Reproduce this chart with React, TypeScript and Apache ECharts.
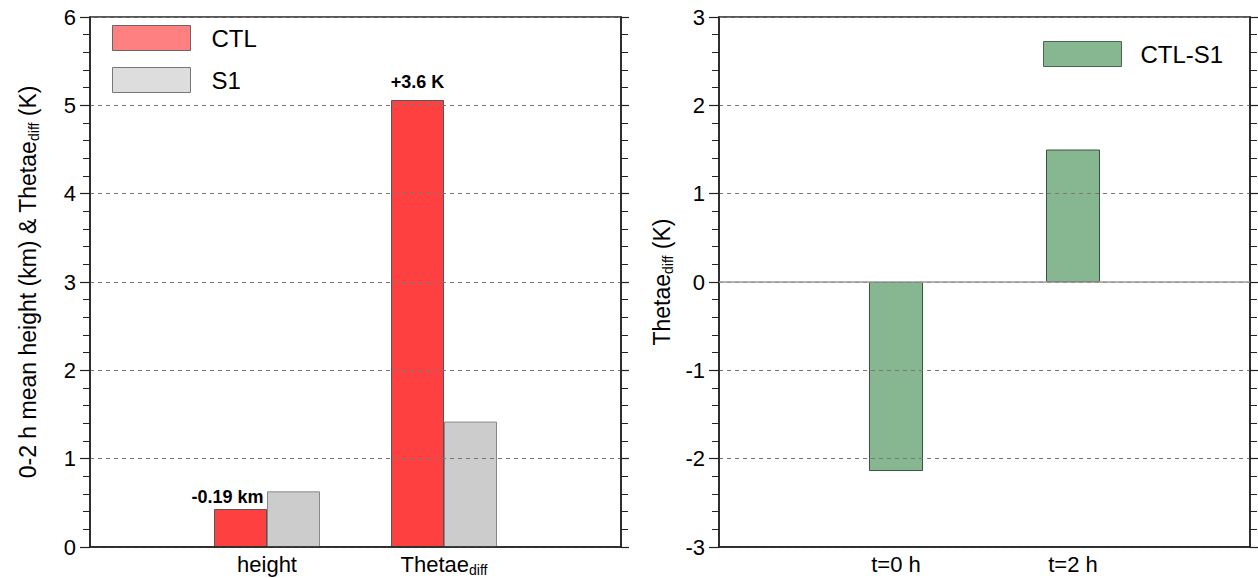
import React, { useEffect, useRef } from "react";
import * as echarts from "echarts";

const leftCategories = ["", "height", "Thetae_diff", ""];
const ctlValues = [0.43, 5.06];
const s1Values = [0.63, 1.42];
const ctlAnnotations = ["-0.19 km", "+3.6 K"];
const rightCategories = ["", "t=0 h", "t=2 h", ""];
const diffValues = [-2.14, 1.5];
const leftTicks = { min: 0, max: 6, interval: 1 };
const rightTicks = { min: -3, max: 3, interval: 1 };

const FONT = "Liberation Sans";

const subRich = {
  sub: { fontSize: 14, lineHeight: 15, verticalAlign: "bottom" as const, fontFamily: FONT, color: "#000" },
};

function catFormatter(v: string) {
  if (v === "Thetae_diff") return "Thetae{sub|diff}";
  return v;
}

export default function App() {
  const ref = useRef<HTMLDivElement>(null);
  useEffect(() => {
    if (!ref.current) return;
    const chart = echarts.init(ref.current, undefined, { renderer: "svg" });

    const axisLineStyle = { color: "#222", width: 1.5 };
    const splitLineStyle = { color: "#777", width: 1, type: [4, 4] as number[] };

    const makeYAxes = (gridIndex: number, ticks: { min: number; max: number; interval: number }, name: string, nameGap: number) => [
      {
        type: "value",
        gridIndex,
        position: "left",
        min: ticks.min,
        max: ticks.max,
        interval: ticks.interval,
        z: 3,
        name,
        nameLocation: "middle",
        nameGap,
        nameTextStyle: { fontSize: 23, fontFamily: FONT, color: "#000", lineHeight: 27, rich: subRich },
        axisLine: { show: true, lineStyle: axisLineStyle },
        axisTick: { show: true, length: 10, lineStyle: { color: "#222", width: 1.2 } },
        minorTick: { show: true, splitNumber: 5, length: 7, lineStyle: { color: "#222", width: 1 } },
        axisLabel: { fontSize: 22, fontFamily: FONT, color: "#000", margin: 14 },
        splitLine: { show: true, lineStyle: splitLineStyle },
      },
      {
        type: "value",
        gridIndex,
        position: "right",
        min: ticks.min,
        max: ticks.max,
        interval: ticks.interval,
        z: 3,
        axisLine: { show: true, lineStyle: axisLineStyle },
        axisTick: { show: true, length: 8, lineStyle: { color: "#222", width: 1.2 } },
        minorTick: { show: true, splitNumber: 5, length: 7, lineStyle: { color: "#222", width: 1 } },
        axisLabel: { show: false },
        splitLine: { show: false },
      },
    ];

    const makeXAxis = (gridIndex: number, data: string[]) => ({
      type: "category",
      gridIndex,
      data,
      boundaryGap: false,
      z: 3,
      axisLine: { show: true, onZero: false, lineStyle: axisLineStyle },
      axisTick: { show: false },
      axisLabel: {
        fontSize: 22,
        fontFamily: FONT,
        color: "#000",
        margin: 4,
        lineHeight: 26,
        interval: 0,
        formatter: catFormatter,
        rich: subRich,
      },
      splitLine: { show: false },
    });

    const ctlData = [
      null,
      { value: ctlValues[0], label: { show: true, formatter: ctlAnnotations[0], offset: [-13, 0], distance: 3 } },
      { value: ctlValues[1], label: { show: true, formatter: ctlAnnotations[1], distance: 9 } },
      null,
    ];

    chart.setOption({
      animation: false,
      textStyle: { fontFamily: FONT },
      grid: [
        { left: 90, right: 637, top: 17, bottom: 31, show: true, borderColor: "#222", borderWidth: 1.5, containLabel: false },
        { left: 719, right: 8, top: 17, bottom: 31, show: true, borderColor: "#222", borderWidth: 1.5, containLabel: false },
      ],
      legend: [
        {
          orient: "vertical",
          left: 112,
          top: 25,
          padding: 0,
          itemWidth: 78,
          itemHeight: 25,
          itemGap: 16,
          icon: "rect",
          textStyle: { fontSize: 24, fontFamily: FONT, color: "#000", padding: [0, 0, 0, 16] },
          data: [
            { name: "CTL", itemStyle: { color: "#ff8080", borderColor: "#666", borderWidth: 1 } },
            { name: "S1", itemStyle: { color: "#dddddd", borderColor: "#777", borderWidth: 1 } },
          ],
        },
        {
          orient: "vertical",
          left: 1043,
          top: 41,
          padding: 0,
          itemWidth: 78,
          itemHeight: 25,
          icon: "rect",
          textStyle: { fontSize: 24, fontFamily: FONT, color: "#000", padding: [0, 0, 0, 14] },
          data: [{ name: "CTL-S1", itemStyle: { color: "#87b791", borderColor: "#4a6650", borderWidth: 1 } }],
        },
      ],
      xAxis: [makeXAxis(0, leftCategories), makeXAxis(1, rightCategories)],
      yAxis: [
        ...makeYAxes(0, leftTicks, "0-2 h mean height (km) & Thetae{sub|diff} (K)", 49),
        ...makeYAxes(1, rightTicks, "Thetae{sub|diff} (K)", 44),
      ],
      series: [
        {
          name: "CTL",
          type: "bar",
          xAxisIndex: 0,
          yAxisIndex: 0,
          barWidth: 53,
          barGap: "0%",
          data: ctlData,
          itemStyle: { color: "#ff4040", borderColor: "#555", borderWidth: 1 },
          label: { position: "top", fontSize: 18, fontWeight: "bold", fontFamily: FONT, color: "#000" },
        },
        {
          name: "S1",
          type: "bar",
          xAxisIndex: 0,
          yAxisIndex: 0,
          barWidth: 53,
          barGap: "0%",
          data: [null, s1Values[0], s1Values[1], null],
          itemStyle: { color: "#cccccc", borderColor: "#888", borderWidth: 1 },
        },
        {
          name: "CTL-S1",
          type: "bar",
          xAxisIndex: 1,
          yAxisIndex: 2,
          barWidth: 54,
          data: [null, diffValues[0], diffValues[1], null],
          itemStyle: { color: "#87b791", borderColor: "#3c5242", borderWidth: 1 },
          markLine: {
            silent: true,
            symbol: "none",
            label: { show: false },
            lineStyle: { color: "#999", width: 1.5, type: "solid" },
            data: [{ yAxis: 0 }],
          },
        },
      ],
    });
    return () => chart.dispose();
  }, []);
  return <div ref={ref} style={{ position: "absolute", left: 0, top: 0, width: 1258, height: 578, background: "#fff" }} />;
}
